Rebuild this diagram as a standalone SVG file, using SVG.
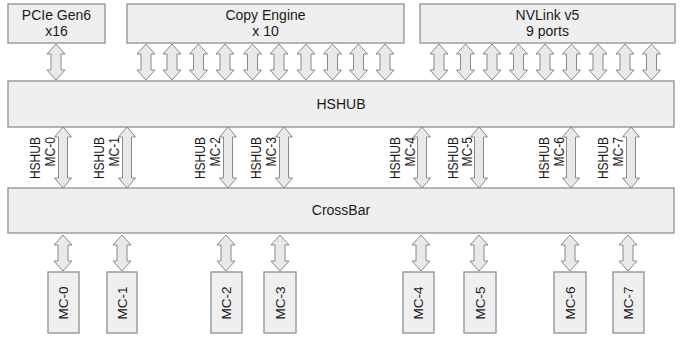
<svg xmlns="http://www.w3.org/2000/svg" xmlns:xlink="http://www.w3.org/1999/xlink" width="680" height="344" viewBox="0 0 680 344">
<style>
.box{fill:#efefef;stroke:#8f8f8f;stroke-width:1.3}
.arr{fill:#e9e9e9;stroke:#8a8a8a;stroke-width:1}
.t{font-family:"Liberation Sans",Arial,sans-serif;font-size:14px;fill:#1a1a1a;text-anchor:middle}
.v{font-family:"Liberation Sans",Arial,sans-serif;font-size:14px;fill:#1a1a1a;text-anchor:end}
.m{font-family:"Liberation Sans",Arial,sans-serif;font-size:13.5px;fill:#1a1a1a;text-anchor:middle}
</style>
<defs>
<path id="a36" class="arr" d="M0,0 L9,10 L5,10 L5,26 L9,26 L0,36 L-9,26 L-5,26 L-5,10 L-9,10 Z"/>
<path id="a61" class="arr" d="M0,0 L8.5,10 L4.5,10 L4.5,51 L8.5,51 L0,61 L-8.5,51 L-4.5,51 L-4.5,10 L-8.5,10 Z"/>
</defs>
<rect width="680" height="344" fill="#ffffff"/>
<g id="connectors">
<use xlink:href="#a36" x="56" y="44"/>
<use xlink:href="#a36" x="146" y="44"/>
<use xlink:href="#a36" x="172" y="44"/>
<use xlink:href="#a36" x="198.5" y="44"/>
<use xlink:href="#a36" x="225" y="44"/>
<use xlink:href="#a36" x="252.5" y="44"/>
<use xlink:href="#a36" x="279" y="44"/>
<use xlink:href="#a36" x="306" y="44"/>
<use xlink:href="#a36" x="332.5" y="44"/>
<use xlink:href="#a36" x="358.5" y="44"/>
<use xlink:href="#a36" x="385" y="44"/>
<use xlink:href="#a36" x="439" y="44"/>
<use xlink:href="#a36" x="465.5" y="44"/>
<use xlink:href="#a36" x="492" y="44"/>
<use xlink:href="#a36" x="518.5" y="44"/>
<use xlink:href="#a36" x="545" y="44"/>
<use xlink:href="#a36" x="571.5" y="44"/>
<use xlink:href="#a36" x="598" y="44"/>
<use xlink:href="#a36" x="625" y="44"/>
<use xlink:href="#a36" x="651.5" y="44"/>
<use xlink:href="#a61" x="63" y="127"/>
<use xlink:href="#a61" x="127" y="127"/>
<use xlink:href="#a61" x="228" y="127"/>
<use xlink:href="#a61" x="284" y="127"/>
<use xlink:href="#a61" x="422" y="127"/>
<use xlink:href="#a61" x="479" y="127"/>
<use xlink:href="#a61" x="571" y="127"/>
<use xlink:href="#a61" x="631" y="127"/>
<use xlink:href="#a36" x="63" y="235"/>
<use xlink:href="#a36" x="122" y="235"/>
<use xlink:href="#a36" x="226" y="235"/>
<use xlink:href="#a36" x="280" y="235"/>
<use xlink:href="#a36" x="421" y="235"/>
<use xlink:href="#a36" x="479" y="235"/>
<use xlink:href="#a36" x="570" y="235"/>
<use xlink:href="#a36" x="628" y="235"/>
</g>
<g id="pcie"><rect class="box" x="8" y="4" width="97" height="39"/><text class="t" x="56.5" y="20">PCIe Gen6</text><text class="t" x="56.5" y="36">x16</text></g>
<g id="copy-engine"><rect class="box" x="127" y="4" width="277" height="39"/><text class="t" x="265.5" y="20">Copy Engine</text><text class="t" x="265.5" y="36">x 10</text></g>
<g id="nvlink"><rect class="box" x="420" y="4" width="255" height="39"/><text class="t" x="547.5" y="20">NVLink v5</text><text class="t" x="547.5" y="36">9 ports</text></g>
<g id="hshub"><rect class="box" x="8" y="81" width="666" height="46"/><text class="t" x="341" y="109">HSHUB</text></g>
<g id="crossbar"><rect class="box" x="8" y="188" width="666" height="45"/><text class="t" x="341" y="215">CrossBar</text></g>
<g id="link-labels">
<text class="v" transform="translate(40,137) rotate(-90) scale(0.86,1)">HSHUB</text><text class="v" transform="translate(55,137) rotate(-90) scale(0.86,1)">MC-0</text>
<text class="v" transform="translate(104,137) rotate(-90) scale(0.86,1)">HSHUB</text><text class="v" transform="translate(119,137) rotate(-90) scale(0.86,1)">MC-1</text>
<text class="v" transform="translate(205,137) rotate(-90) scale(0.86,1)">HSHUB</text><text class="v" transform="translate(220,137) rotate(-90) scale(0.86,1)">MC-2</text>
<text class="v" transform="translate(261,137) rotate(-90) scale(0.86,1)">HSHUB</text><text class="v" transform="translate(276,137) rotate(-90) scale(0.86,1)">MC-3</text>
<text class="v" transform="translate(400,137) rotate(-90) scale(0.86,1)">HSHUB</text><text class="v" transform="translate(415,137) rotate(-90) scale(0.86,1)">MC-4</text>
<text class="v" transform="translate(458,137) rotate(-90) scale(0.86,1)">HSHUB</text><text class="v" transform="translate(472,137) rotate(-90) scale(0.86,1)">MC-5</text>
<text class="v" transform="translate(549,137) rotate(-90) scale(0.86,1)">HSHUB</text><text class="v" transform="translate(564,137) rotate(-90) scale(0.86,1)">MC-6</text>
<text class="v" transform="translate(608,137) rotate(-90) scale(0.86,1)">HSHUB</text><text class="v" transform="translate(623,137) rotate(-90) scale(0.86,1)">MC-7</text>
</g>
<g id="mc0"><rect class="box" x="48" y="272" width="31" height="61"/><text class="m" transform="translate(68,303) rotate(-90)">MC-0</text></g>
<g id="mc1"><rect class="box" x="107" y="272" width="30" height="61"/><text class="m" transform="translate(126.5,303) rotate(-90)">MC-1</text></g>
<g id="mc2"><rect class="box" x="211" y="272" width="31" height="61"/><text class="m" transform="translate(231,303) rotate(-90)">MC-2</text></g>
<g id="mc3"><rect class="box" x="264" y="272" width="32" height="61"/><text class="m" transform="translate(284.5,303) rotate(-90)">MC-3</text></g>
<g id="mc4"><rect class="box" x="403" y="272" width="31" height="61"/><text class="m" transform="translate(423,303) rotate(-90)">MC-4</text></g>
<g id="mc5"><rect class="box" x="464" y="272" width="32" height="61"/><text class="m" transform="translate(484.5,303) rotate(-90)">MC-5</text></g>
<g id="mc6"><rect class="box" x="554" y="272" width="32" height="61"/><text class="m" transform="translate(574.5,303) rotate(-90)">MC-6</text></g>
<g id="mc7"><rect class="box" x="613" y="272" width="31" height="61"/><text class="m" transform="translate(633,303) rotate(-90)">MC-7</text></g>
</svg>
